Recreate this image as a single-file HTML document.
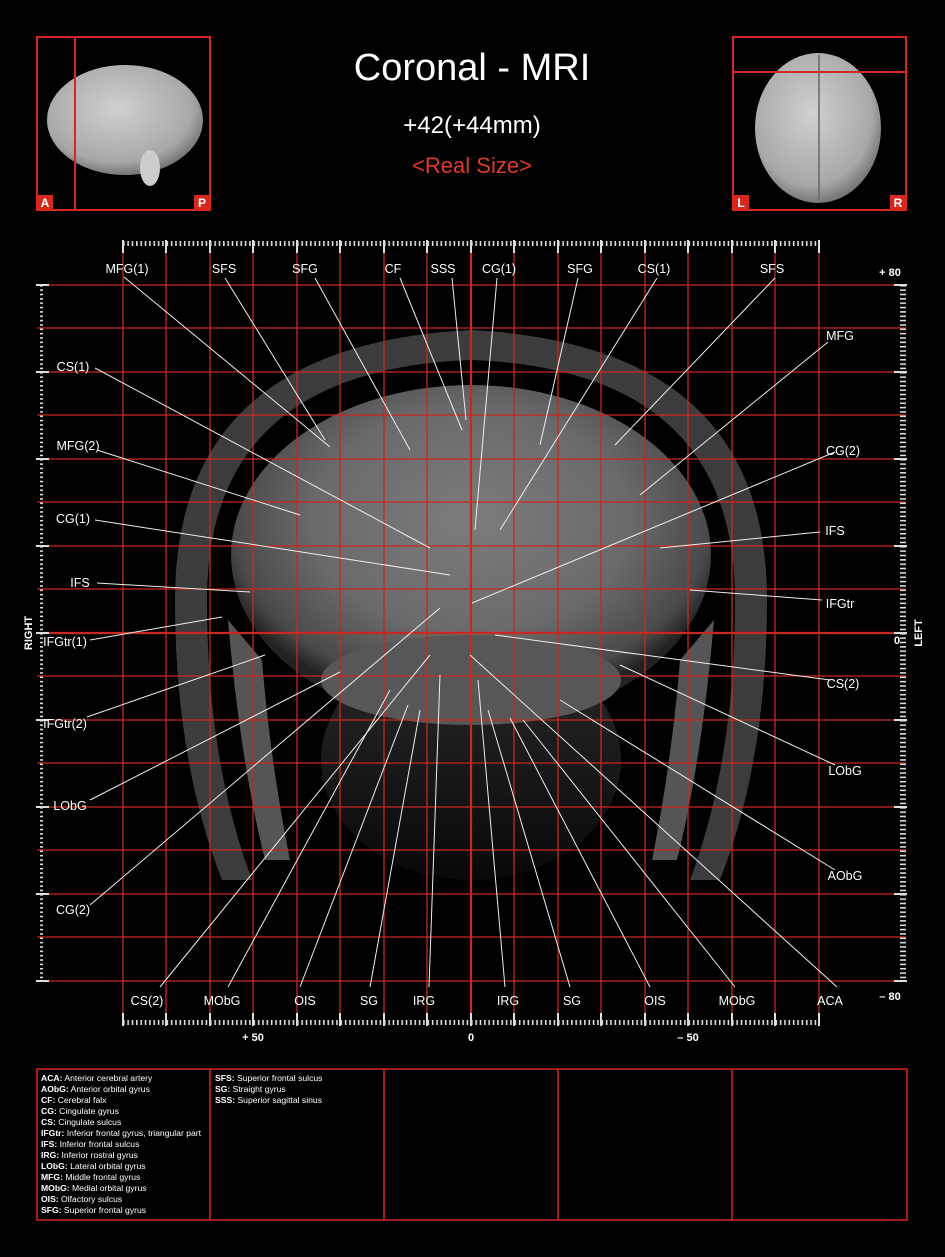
<!DOCTYPE html>
<html><head><meta charset="utf-8"><style>
html,body{margin:0;padding:0;background:#000;}
body{width:945px;height:1257px;overflow:hidden;position:relative;font-family:"Liberation Sans",Arial,sans-serif;}
svg{position:absolute;left:0;top:0;}
</style></head><body>
<svg width="945" height="1257" viewBox="0 0 945 1257" xmlns="http://www.w3.org/2000/svg" font-family="Liberation Sans, Arial, sans-serif">
<defs>
<radialGradient id="brain" cx="50%" cy="40%" r="55%">
<stop offset="0" stop-color="#7c7c7c"/><stop offset="0.6" stop-color="#6a6a6a"/><stop offset="0.9" stop-color="#4a4a4a"/><stop offset="1" stop-color="#222"/>
</radialGradient>
<radialGradient id="thumb" cx="45%" cy="40%" r="60%">
<stop offset="0" stop-color="#d0d0d0"/><stop offset="0.8" stop-color="#a8a8a8"/><stop offset="1" stop-color="#777"/>
</radialGradient>
<linearGradient id="lower" x1="0" y1="0" x2="0" y2="1">
<stop offset="0" stop-color="#555"/><stop offset="1" stop-color="#111"/>
</linearGradient>
<pattern id="tx" x="123" y="0" width="4.35" height="20" patternUnits="userSpaceOnUse"><rect x="0" y="0" width="1.6" height="6" fill="#ddd"/></pattern>
<pattern id="ty" x="0" y="285" width="20" height="4.35" patternUnits="userSpaceOnUse"><rect x="0" y="0" width="6" height="1.6" fill="#ddd"/></pattern>
</defs>

<!-- MRI approximation -->
<path d="M175 600 Q175 345 471 330 Q767 345 767 600 Q767 760 720 880 L690 880 Q735 760 735 600 Q735 370 471 360 Q207 370 207 600 Q207 760 252 880 L222 880 Q175 760 175 600Z" fill="#3c3c3c"/>
<path d="M228 620 Q240 760 265 860 L290 860 Q270 760 262 660Z" fill="#555"/>
<path d="M714 620 Q702 760 677 860 L652 860 Q672 760 680 660Z" fill="#555"/>
<ellipse cx="471" cy="760" rx="150" ry="120" fill="url(#lower)" opacity="0.5"/>
<ellipse cx="471" cy="555" rx="240" ry="170" fill="url(#brain)"/>
<ellipse cx="471" cy="680" rx="150" ry="45" fill="#575757"/>

<!-- Grid -->
<g stroke="#c8281e" stroke-width="1.3">
<line x1="123" y1="243" x2="123" y2="1024"/><line x1="166" y1="243" x2="166" y2="1024"/><line x1="210" y1="243" x2="210" y2="1024"/><line x1="253" y1="243" x2="253" y2="1024"/><line x1="297" y1="243" x2="297" y2="1024"/><line x1="340" y1="243" x2="340" y2="1024"/><line x1="384" y1="243" x2="384" y2="1024"/><line x1="427" y1="243" x2="427" y2="1024"/><line x1="514" y1="243" x2="514" y2="1024"/><line x1="558" y1="243" x2="558" y2="1024"/><line x1="601" y1="243" x2="601" y2="1024"/><line x1="645" y1="243" x2="645" y2="1024"/><line x1="688" y1="243" x2="688" y2="1024"/><line x1="732" y1="243" x2="732" y2="1024"/><line x1="775" y1="243" x2="775" y2="1024"/><line x1="819" y1="243" x2="819" y2="1024"/>
<line x1="37" y1="285" x2="906" y2="285"/><line x1="37" y1="328" x2="906" y2="328"/><line x1="37" y1="372" x2="906" y2="372"/><line x1="37" y1="415" x2="906" y2="415"/><line x1="37" y1="459" x2="906" y2="459"/><line x1="37" y1="502" x2="906" y2="502"/><line x1="37" y1="546" x2="906" y2="546"/><line x1="37" y1="589" x2="906" y2="589"/><line x1="37" y1="676" x2="906" y2="676"/><line x1="37" y1="720" x2="906" y2="720"/><line x1="37" y1="763" x2="906" y2="763"/><line x1="37" y1="807" x2="906" y2="807"/><line x1="37" y1="850" x2="906" y2="850"/><line x1="37" y1="894" x2="906" y2="894"/><line x1="37" y1="937" x2="906" y2="937"/><line x1="37" y1="981" x2="906" y2="981"/>
<line x1="471" y1="243" x2="471" y2="1024" stroke-width="2.2"/>
<line x1="37" y1="633" x2="906" y2="633" stroke-width="2.2"/>
</g>

<!-- Rulers -->
<rect x="123" y="241" width="697" height="6" fill="url(#tx)"/>
<rect x="123" y="1019" width="697" height="6" fill="url(#tx)"/>
<rect x="37" y="285" width="6" height="697" fill="url(#ty)"/>
<rect x="900" y="285" width="6" height="697" fill="url(#ty)"/>
<g fill="#ddd">
<rect x="122" y="240" width="2" height="13"/><rect x="165" y="240" width="2" height="13"/><rect x="209" y="240" width="2" height="13"/><rect x="252" y="240" width="2" height="13"/><rect x="296" y="240" width="2" height="13"/><rect x="339" y="240" width="2" height="13"/><rect x="383" y="240" width="2" height="13"/><rect x="426" y="240" width="2" height="13"/><rect x="470" y="240" width="2" height="13"/><rect x="513" y="240" width="2" height="13"/><rect x="557" y="240" width="2" height="13"/><rect x="600" y="240" width="2" height="13"/><rect x="644" y="240" width="2" height="13"/><rect x="687" y="240" width="2" height="13"/><rect x="731" y="240" width="2" height="13"/><rect x="774" y="240" width="2" height="13"/><rect x="818" y="240" width="2" height="13"/>
<rect x="122" y="1013" width="2" height="13"/><rect x="165" y="1013" width="2" height="13"/><rect x="209" y="1013" width="2" height="13"/><rect x="252" y="1013" width="2" height="13"/><rect x="296" y="1013" width="2" height="13"/><rect x="339" y="1013" width="2" height="13"/><rect x="383" y="1013" width="2" height="13"/><rect x="426" y="1013" width="2" height="13"/><rect x="470" y="1013" width="2" height="13"/><rect x="513" y="1013" width="2" height="13"/><rect x="557" y="1013" width="2" height="13"/><rect x="600" y="1013" width="2" height="13"/><rect x="644" y="1013" width="2" height="13"/><rect x="687" y="1013" width="2" height="13"/><rect x="731" y="1013" width="2" height="13"/><rect x="774" y="1013" width="2" height="13"/><rect x="818" y="1013" width="2" height="13"/>
<rect x="36" y="284" width="13" height="2"/><rect x="36" y="371" width="13" height="2"/><rect x="36" y="458" width="13" height="2"/><rect x="36" y="545" width="13" height="2"/><rect x="36" y="632" width="13" height="2"/><rect x="36" y="719" width="13" height="2"/><rect x="36" y="806" width="13" height="2"/><rect x="36" y="893" width="13" height="2"/><rect x="36" y="980" width="13" height="2"/>
<rect x="894" y="284" width="13" height="2"/><rect x="894" y="371" width="13" height="2"/><rect x="894" y="458" width="13" height="2"/><rect x="894" y="545" width="13" height="2"/><rect x="894" y="632" width="13" height="2"/><rect x="894" y="719" width="13" height="2"/><rect x="894" y="806" width="13" height="2"/><rect x="894" y="893" width="13" height="2"/><rect x="894" y="980" width="13" height="2"/>
</g>

<!-- Leader lines -->
<g stroke="#eee" stroke-width="1">
<line x1="124" y1="277" x2="330" y2="447"/><line x1="225" y1="278" x2="325" y2="440"/><line x1="315" y1="278" x2="410" y2="450"/><line x1="400" y1="278" x2="462" y2="430"/><line x1="452" y1="278" x2="466" y2="420"/><line x1="497" y1="278" x2="475" y2="530"/><line x1="578" y1="278" x2="540" y2="445"/><line x1="657" y1="278" x2="500" y2="530"/><line x1="775" y1="278" x2="615" y2="445"/>
<line x1="828" y1="342" x2="640" y2="495"/><line x1="95" y1="368" x2="430" y2="548"/><line x1="97" y1="450" x2="300" y2="515"/><line x1="95" y1="520" x2="450" y2="575"/><line x1="97" y1="583" x2="250" y2="592"/><line x1="90" y1="640" x2="222" y2="617"/>
<line x1="835" y1="452" x2="472" y2="603"/><line x1="820" y1="532" x2="660" y2="548"/><line x1="822" y1="600" x2="690" y2="590"/><line x1="830" y1="680" x2="495" y2="635"/><line x1="835" y1="765" x2="620" y2="665"/><line x1="835" y1="870" x2="560" y2="700"/>
<line x1="87" y1="717" x2="265" y2="655"/><line x1="90" y1="800" x2="340" y2="672"/><line x1="90" y1="905" x2="440" y2="608"/>
<line x1="160" y1="987" x2="430" y2="655"/><line x1="228" y1="987" x2="390" y2="690"/><line x1="300" y1="987" x2="408" y2="705"/><line x1="370" y1="987" x2="420" y2="710"/><line x1="429" y1="987" x2="440" y2="675"/><line x1="505" y1="987" x2="478" y2="680"/><line x1="570" y1="987" x2="488" y2="710"/><line x1="650" y1="987" x2="510" y2="718"/><line x1="735" y1="987" x2="523" y2="720"/><line x1="837" y1="987" x2="470" y2="655"/>
</g>

<!-- Labels -->
<g fill="#fff" font-size="12.5" text-anchor="middle">
<text x="127" y="273">MFG(1)</text><text x="224" y="273">SFS</text><text x="305" y="273">SFG</text><text x="393" y="273">CF</text><text x="443" y="273">SSS</text><text x="499" y="273">CG(1)</text><text x="580" y="273">SFG</text><text x="654" y="273">CS(1)</text><text x="772" y="273">SFS</text>
<text x="840" y="340">MFG</text><text x="73" y="371">CS(1)</text><text x="78" y="450">MFG(2)</text><text x="73" y="523">CG(1)</text><text x="80" y="587">IFS</text><text x="65" y="646">IFGtr(1)</text>
<text x="843" y="455">CG(2)</text><text x="835" y="535">IFS</text><text x="840" y="608">IFGtr</text><text x="843" y="688">CS(2)</text><text x="845" y="775">LObG</text><text x="845" y="880">AObG</text>
<text x="65" y="728">IFGtr(2)</text><text x="70" y="810">LObG</text><text x="73" y="914">CG(2)</text>
<text x="147" y="1005">CS(2)</text><text x="222" y="1005">MObG</text><text x="305" y="1005">OIS</text><text x="369" y="1005">SG</text><text x="424" y="1005">IRG</text><text x="508" y="1005">IRG</text><text x="572" y="1005">SG</text><text x="655" y="1005">OIS</text><text x="737" y="1005">MObG</text><text x="830" y="1005">ACA</text>
</g>
<g fill="#fff" font-size="11" font-weight="bold" text-anchor="middle">
<text x="890" y="276">+ 80</text><text x="897" y="644">0</text><text x="890" y="1000">– 80</text>
<text x="253" y="1041">+ 50</text><text x="471" y="1041">0</text><text x="688" y="1041">– 50</text>
<text transform="translate(32,633) rotate(-90)">RIGHT</text>
<text transform="translate(922,633) rotate(-90)">LEFT</text>
</g>

<!-- Title -->
<g fill="#fff" text-anchor="middle">
<text x="472" y="80" font-size="38">Coronal - MRI</text>
<text x="472" y="133" font-size="24">+42(+44mm)</text>
<text x="472" y="173" font-size="22" fill="#e03a2c">&lt;Real Size&gt;</text>
</g>

<!-- Thumbnails -->
<ellipse cx="125" cy="120" rx="78" ry="55" fill="url(#thumb)"/>
<ellipse cx="150" cy="168" rx="10" ry="18" fill="#ccc"/>
<ellipse cx="818" cy="128" rx="63" ry="75" fill="url(#thumb)"/>
<line x1="819" y1="55" x2="819" y2="200" stroke="#666" stroke-width="1.5"/>
<g fill="none" stroke="#d6281e" stroke-width="2">
<rect x="37" y="37" width="173" height="173"/><line x1="75" y1="37" x2="75" y2="210"/>
<rect x="733" y="37" width="173" height="173"/><line x1="733" y1="72" x2="906" y2="72"/>
</g>
<g fill="#d6281e"><rect x="37" y="195" width="16" height="15"/><rect x="194" y="195" width="16" height="15"/><rect x="733" y="195" width="16" height="15"/><rect x="890" y="195" width="16" height="15"/></g>
<g fill="#fff" font-size="12" font-weight="bold" text-anchor="middle">
<text x="45" y="207">A</text><text x="202" y="207">P</text><text x="741" y="207">L</text><text x="898" y="207">R</text>
</g>

<!-- Legend -->
<g fill="none" stroke="#d6281e" stroke-width="1.5">
<rect x="37" y="1069" width="870" height="151"/>
<line x1="210" y1="1069" x2="210" y2="1220"/><line x1="384" y1="1069" x2="384" y2="1220"/><line x1="558" y1="1069" x2="558" y2="1220"/><line x1="732" y1="1069" x2="732" y2="1220"/>
</g>
<g fill="#fff" font-size="8.6">
<text x="41" y="1081"><tspan font-weight="bold">ACA:</tspan> Anterior cerebral artery</text>
<text x="41" y="1092"><tspan font-weight="bold">AObG:</tspan> Anterior orbital gyrus</text>
<text x="41" y="1103"><tspan font-weight="bold">CF:</tspan> Cerebral falx</text>
<text x="41" y="1114"><tspan font-weight="bold">CG:</tspan> Cingulate gyrus</text>
<text x="41" y="1125"><tspan font-weight="bold">CS:</tspan> Cingulate sulcus</text>
<text x="41" y="1136"><tspan font-weight="bold">IFGtr:</tspan> Inferior frontal gyrus, triangular part</text>
<text x="41" y="1147"><tspan font-weight="bold">IFS:</tspan> Inferior frontal sulcus</text>
<text x="41" y="1158"><tspan font-weight="bold">IRG:</tspan> Inferior rostral gyrus</text>
<text x="41" y="1169"><tspan font-weight="bold">LObG:</tspan> Lateral orbital gyrus</text>
<text x="41" y="1180"><tspan font-weight="bold">MFG:</tspan> Middle frontal gyrus</text>
<text x="41" y="1191"><tspan font-weight="bold">MObG:</tspan> Medial orbital gyrus</text>
<text x="41" y="1202"><tspan font-weight="bold">OIS:</tspan> Olfactory sulcus</text>
<text x="41" y="1213"><tspan font-weight="bold">SFG:</tspan> Superior frontal gyrus</text>
<text x="215" y="1081"><tspan font-weight="bold">SFS:</tspan> Superior frontal sulcus</text>
<text x="215" y="1092"><tspan font-weight="bold">SG:</tspan> Straight gyrus</text>
<text x="215" y="1103"><tspan font-weight="bold">SSS:</tspan> Superior sagittal sinus</text>
</g>
</svg>
</body></html>
